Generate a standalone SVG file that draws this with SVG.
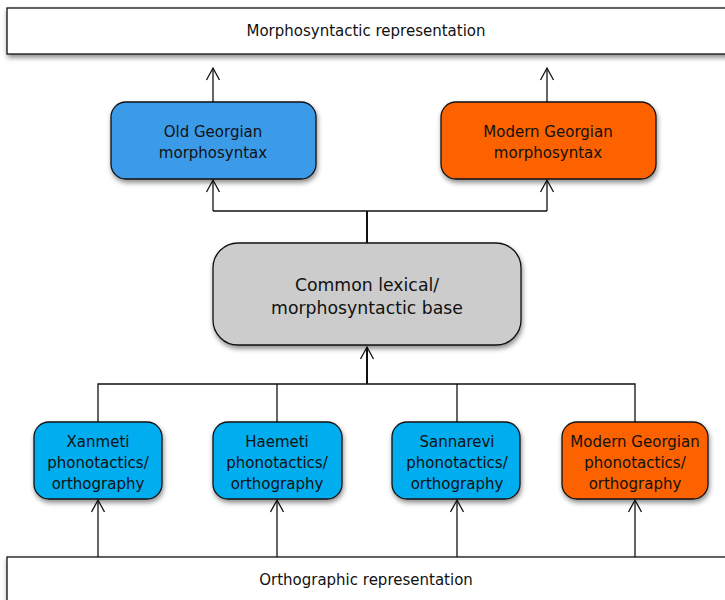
<svg xmlns="http://www.w3.org/2000/svg" width="725" height="600" viewBox="0 0 725 600">
<defs>
<filter id="sh" x="-20%" y="-20%" width="140%" height="150%">
<feDropShadow dx="1" dy="3" stdDeviation="2.5" flood-color="#000" flood-opacity="0.45"/>
</filter>
<marker id="ah" markerUnits="userSpaceOnUse" orient="auto" markerWidth="20" markerHeight="20" refX="0" refY="0" viewBox="-15 -10 20 20" overflow="visible">
<path d="M-12,-6.5 L0,0 L-12,6.5" fill="none" stroke="#111" stroke-width="1.3"/>
</marker>
</defs>
<style>
.box{stroke:#111;stroke-width:1.3}
.rep{fill:#fff}
.blue{fill:#3a9be8}
.orange{fill:#fd6200}
.cyan{fill:#00adef}
.gray{fill:#cccccc}
text{font-family:"DejaVu Sans","Liberation Sans",sans-serif;fill:#111;text-anchor:middle}
.t{font-size:15px}
.tb{font-size:17.3px}
.c{fill:none;stroke:#111;stroke-width:1.3}
.ct{fill:none;stroke:#111;stroke-width:2}
</style>
<g id="morph-rep">
<rect class="box rep" x="7" y="8" width="730" height="46" filter="url(#sh)"/>
<text class="t" x="366" y="36">Morphosyntactic representation</text>
</g>
<g id="orth-rep">
<rect class="box rep" x="7" y="557" width="730" height="60" filter="url(#sh)"/>
<text class="t" x="366" y="585">Orthographic representation</text>
</g>
<g id="old-georgian">
<rect class="box blue" x="111" y="102" width="205" height="77" rx="15" filter="url(#sh)"/>
<text class="t" x="213" y="137">Old Georgian</text>
<text class="t" x="213" y="158">morphosyntax</text>
</g>
<g id="modern-georgian">
<rect class="box orange" x="441" y="102" width="215" height="77" rx="15" filter="url(#sh)"/>
<text class="t" x="548" y="137">Modern Georgian</text>
<text class="t" x="548" y="158">morphosyntax</text>
</g>
<g id="common-base">
<rect class="box gray" x="213" y="243" width="308" height="102" rx="25" filter="url(#sh)"/>
<text class="tb" x="367" y="291">Common lexical/</text>
<text class="tb" x="367" y="314">morphosyntactic base</text>
</g>
<g id="xanmeti">
<rect class="box cyan" x="34" y="422" width="128" height="77" rx="15" filter="url(#sh)"/>
<text class="t" x="98" y="447">Xanmeti</text>
<text class="t" x="98" y="468">phonotactics/</text>
<text class="t" x="98" y="489">orthography</text>
</g>
<g id="haemeti">
<rect class="box cyan" x="213" y="422" width="129" height="77" rx="15" filter="url(#sh)"/>
<text class="t" x="277" y="447">Haemeti</text>
<text class="t" x="277" y="468">phonotactics/</text>
<text class="t" x="277" y="489">orthography</text>
</g>
<g id="sannarevi">
<rect class="box cyan" x="392" y="422" width="128" height="77" rx="15" filter="url(#sh)"/>
<text class="t" x="457" y="447">Sannarevi</text>
<text class="t" x="457" y="468">phonotactics/</text>
<text class="t" x="457" y="489">orthography</text>
</g>
<g id="modern-phon">
<rect class="box orange" x="562" y="422" width="146" height="77" rx="15" filter="url(#sh)"/>
<text class="t" x="635" y="447">Modern Georgian</text>
<text class="t" x="635" y="468">phonotactics/</text>
<text class="t" x="635" y="489">orthography</text>
</g>
<g id="connectors">
<path class="c" d="M213,102 V68" marker-end="url(#ah)"/>
<path class="c" d="M547,102 V68" marker-end="url(#ah)"/>
<path class="ct" d="M367,243 V211"/>
<path class="c" d="M213,211 H547"/>
<path class="c" d="M213,211 V180" marker-end="url(#ah)"/>
<path class="c" d="M547,211 V180" marker-end="url(#ah)"/>
<path class="ct" d="M367,384 V347" marker-end="url(#ah)"/>
<path class="c" d="M98,422 V384 H635 V422"/>
<path class="c" d="M277,384 V422"/>
<path class="c" d="M457,384 V422"/>
<path class="c" d="M98,557 V500" marker-end="url(#ah)"/>
<path class="c" d="M277,557 V500" marker-end="url(#ah)"/>
<path class="c" d="M457,557 V500" marker-end="url(#ah)"/>
<path class="c" d="M635,557 V500" marker-end="url(#ah)"/>
</g>
</svg>
